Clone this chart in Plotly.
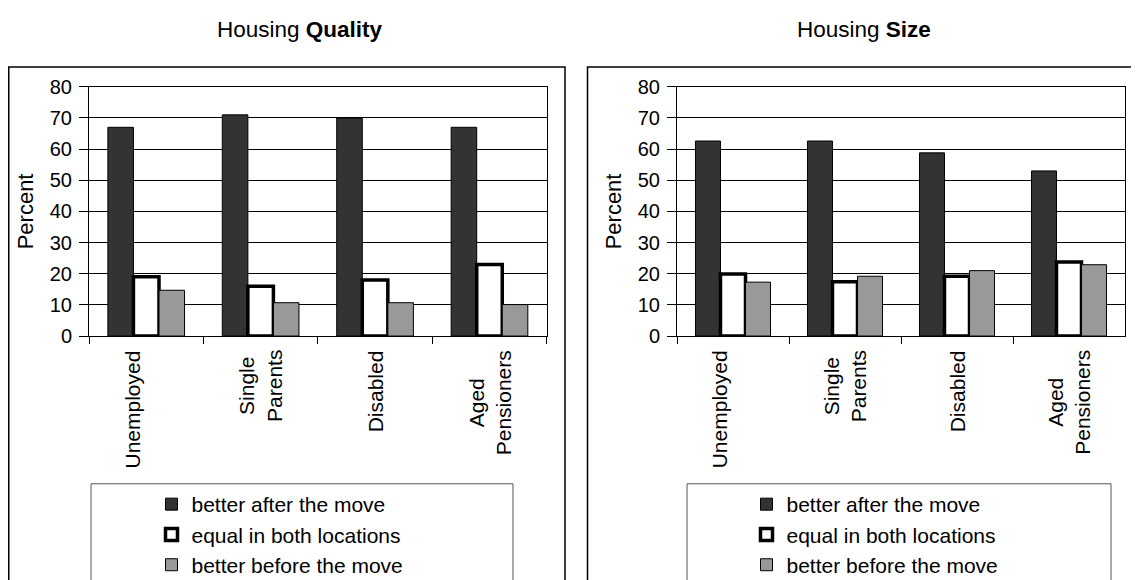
import plotly.graph_objects as go

# ---- data ----
categories = ["Unemployed", "Single Parents", "Disabled", "Aged Pensioners"]
cat_labels = ["Unemployed<br>&nbsp;", "Single<br>Parents", "Disabled", "Aged<br>Pensioners"]
series_names = ["better after the move", "equal in both locations", "better before the move"]

quality_after = [67, 71, 70, 67]
quality_equal = [19, 16, 18, 23]
quality_before = [14.7, 10.7, 10.7, 10.1]

size_after = [62.6, 62.6, 58.8, 53]
size_equal = [19.9, 17.4, 19.2, 23.8]
size_before = [17.3, 19.2, 21, 22.9]

panel_titles = ["Housing <b>Quality</b>", "Housing <b>Size</b>"]
y_ticks = [0, 10, 20, 30, 40, 50, 60, 70, 80]

# ---- styles ----
FONT = "Liberation Sans, Arial, sans-serif"
OFF = 8                 # page body margin offset
W, H = 1131, 600        # figure size
fills = ["#333333", "#ffffff", "#999999"]
line_w = [1, 3.5, 1]

fig = go.Figure()

panels = [
    dict(vals=[quality_after, quality_equal, quality_before], xa="x", ya="y", legend="legend"),
    dict(vals=[size_after, size_equal, size_before], xa="x2", ya="y2", legend="legend2"),
]
for p in panels:
    for i, name in enumerate(series_names):
        fig.add_trace(go.Bar(
            x=categories, y=p["vals"][i], name=name,
            xaxis=p["xa"], yaxis=p["ya"], legend=p["legend"],
            marker=dict(color=fills[i], line=dict(color="black", width=line_w[i])),
        ))

def px_x(v):  # page pixel -> paper fraction
    return (v - OFF) / W

def px_y(v):
    # empirical vertical calibration of the rendered page
    p = (v - 10.7) / 0.967
    return 1 - (p - OFF) / H

x_domains = [[px_x(89), px_x(546.7)], [px_x(677), px_x(1125)]]
y_domain = [px_y(336.7), px_y(86.5)]

axis_common = dict(showline=True, linecolor="black", linewidth=1, mirror=True)

layout = dict(
    width=W, height=H, autosize=False,
    margin=dict(l=0, r=0, t=0, b=0),
    paper_bgcolor="white", plot_bgcolor="white",
    barmode="group", bargap=0.33, bargroupgap=0,
    font=dict(family=FONT, color="black"),
    showlegend=True,
)
for k, suffix in enumerate(["", "2"]):
    layout["xaxis" + suffix] = dict(
        domain=x_domains[k], type="category", anchor="y" + suffix,
        showticklabels=False, ticks="outside", tickson="boundaries",
        ticklen=7, tickcolor="black", showgrid=False, fixedrange=True,
        **axis_common,
    )
    layout["yaxis" + suffix] = dict(
        domain=y_domain, anchor="x" + suffix, range=[0, 80],
        tickvals=y_ticks, ticks="outside", ticklen=9, tickcolor="black",
        ticklabelstandoff=3,
        tickfont=dict(size=20, family=FONT, color="black"),
        showgrid=True, gridcolor="black", gridwidth=1, zeroline=False,
        title=dict(text="Percent", font=dict(size=22, family=FONT, color="black"), standoff=10),
        fixedrange=True,
        **axis_common,
    )

legend_x = [px_x(280), px_x(875)]
for k, name in enumerate(["legend", "legend2"]):
    layout[name] = dict(
        x=legend_x[k], xanchor="center", y=px_y(485.2), yanchor="top",
        bgcolor="rgba(0,0,0,0)", borderwidth=0,
        font=dict(size=21, family=FONT, color="black"),
        tracegroupgap=0, itemwidth=30,
    )

annotations = []
title_x = [px_x(300), px_x(864)]
for k, t in enumerate(panel_titles):
    annotations.append(dict(
        text=t, xref="paper", yref="paper", x=title_x[k], y=px_y(29),
        xanchor="center", yanchor="middle", showarrow=False,
        font=dict(size=22.5, family=FONT, color="black"),
    ))
for k, xa in enumerate(["x", "x2"]):
    for c, lab in zip(categories, cat_labels):
        annotations.append(dict(
            text=lab, xref=xa, yref="paper", x=c, y=px_y(349),
            xanchor="center", yanchor="top", textangle=-90, align="center",
            showarrow=False, font=dict(size=21, family=FONT, color="black"),
        ))
layout["annotations"] = annotations

shapes = []
# outer frames
for x0, x1 in [(8.75, 565), (587.5, 1137.5)]:
    shapes.append(dict(type="rect", xref="paper", yref="paper",
                       x0=px_x(x0), x1=px_x(x1), y0=px_y(640), y1=px_y(66.5),
                       line=dict(color="black", width=1.5), fillcolor="rgba(0,0,0,0)"))
# legend frames
for x0, x1 in [(91, 513), (687, 1111)]:
    shapes.append(dict(type="rect", xref="paper", yref="paper",
                       x0=px_x(x0), x1=px_x(x1), y0=px_y(640), y1=px_y(485),
                       line=dict(color="#555555", width=1), fillcolor="rgba(0,0,0,0)"))
layout["shapes"] = shapes

fig.update_layout(**layout)
fig.write_html("out.html")
